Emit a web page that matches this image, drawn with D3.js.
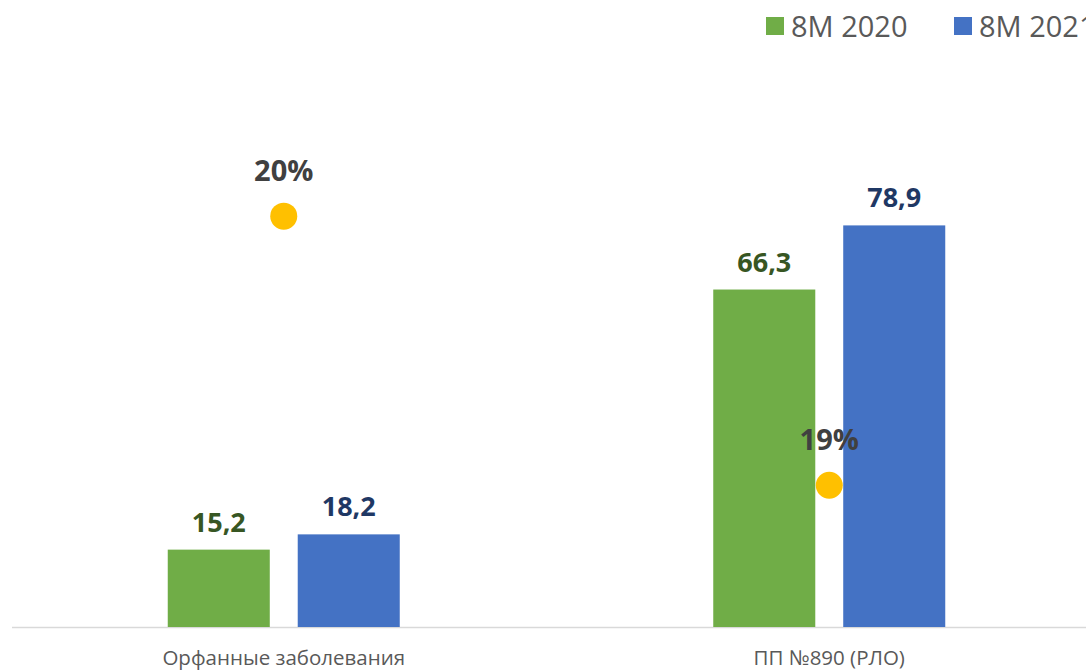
<!DOCTYPE html>
<meta charset="utf-8">
<style>
  body { margin: 0; background: #fff; }
  svg { display: block; font-family: "Open Sans", sans-serif; }
</style>
<svg width="1086" height="670"></svg>
<script src="https://cdn.jsdelivr.net/npm/d3@7"></script>
<script>
// data
const categories = ["Орфанные заболевания", "ПП №890 (РЛО)"]
const seriesNames = ["8M 2020", "8M 2021"]
const values2020 = [15.2, 66.3]
const values2021 = [18.2, 78.9]
const growth = [0.1974, 0.1900]
const growthLabels = ["20%", "19%"]

const colors = ["#70AD47", "#4472C4"]
const labelColors = ["#375623", "#1F3864"]

const svg = d3.select('svg')
const plotTop = 118, plotBottom = 627

const x = d3.scaleBand().domain(categories).range([11, 1102])
const xs = d3.scaleBand().domain(seriesNames).range([0, x.bandwidth()]).paddingInner(0.215).paddingOuter(1.206)
const y = d3.scaleLinear().domain([0, 100]).range([plotBottom, plotTop])
const y2 = d3.scaleLinear().domain([0.1861, 0.2001]).range([plotBottom, plotTop])

// baseline
svg.append('line')
  .attr('x1', 12).attr('x2', 1086)
  .attr('y1', plotBottom + 0.5).attr('y2', plotBottom + 0.5)
  .attr('stroke', '#D9D9D9').attr('stroke-width', 1.5)

const series = [values2020, values2021]
series.forEach((vals, si) => {
  const g = svg.append('g')
  g.selectAll('rect').data(vals).enter().append('rect')
    .attr('x', (d, i) => x(categories[i]) + xs(seriesNames[si]))
    .attr('width', xs.bandwidth())
    .attr('y', d => y(d))
    .attr('height', d => plotBottom - y(d))
    .attr('fill', colors[si])
  g.selectAll('text').data(vals).enter().append('text')
    .attr('x', (d, i) => x(categories[i]) + xs(seriesNames[si]) + xs.bandwidth() / 2)
    .attr('y', d => y(d) - 18)
    .attr('text-anchor', 'middle')
    .attr('font-size', 27).attr('font-weight', 'bold')
    .attr('fill', labelColors[si])
    .text(d => String(d).replace('.', ','))
})

// growth dots
svg.append('g').selectAll('circle').data(growth).enter().append('circle')
  .attr('cx', (d, i) => x(categories[i]) + x.bandwidth() / 2)
  .attr('cy', d => y2(d))
  .attr('r', 13.5)
  .attr('fill', '#FFC000')
svg.append('g').selectAll('text').data(growth).enter().append('text')
  .attr('x', (d, i) => x(categories[i]) + x.bandwidth() / 2)
  .attr('y', d => y2(d) - 35)
  .attr('text-anchor', 'middle')
  .attr('font-size', 29).attr('font-weight', 'bold')
  .attr('fill', '#404040')
  .text((d, i) => growthLabels[i])

// category labels
svg.append('g').selectAll('text').data(categories).enter().append('text')
  .attr('x', d => x(d) + x.bandwidth() / 2)
  .attr('y', 665)
  .attr('text-anchor', 'middle')
  .attr('font-size', 20.5)
  .attr('fill', '#595959')
  .text(d => d)

// legend
const legend = svg.append('g').selectAll('g').data(seriesNames).enter().append('g')
  .attr('transform', (d, i) => `translate(${766 + i * 188},0)`)
legend.append('rect')
  .attr('x', 0).attr('y', 17).attr('width', 18).attr('height', 18)
  .attr('fill', (d, i) => colors[i])
legend.append('text')
  .attr('x', 25).attr('y', 37)
  .attr('font-size', 29)
  .attr('fill', '#595959')
  .text(d => d)
</script>
